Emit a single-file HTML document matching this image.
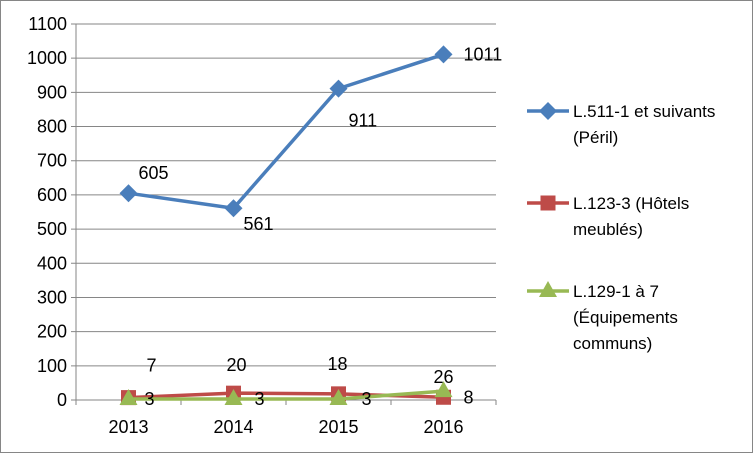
<!DOCTYPE html>
<html><head><meta charset="utf-8"><style>
body{margin:0;background:#fff}
svg{display:block;font-family:"Liberation Sans",sans-serif}
</style></head><body>
<svg id="c" width="753" height="453">
<rect x="0.5" y="0.5" width="752" height="452" fill="#fff" stroke="#868686"/>
</svg>
<script>
const categories=["2013","2014","2015","2016"];
const perilValues=[605,561,911,1011];
const hotelsValues=[7,20,18,8];
const equipValues=[3,3,3,26];
const yTicks=[0,100,200,300,400,500,600,700,800,900,1000,1100];
const seriesNames=[["L.511-1 et suivants","(Péril)"],["L.123-3 (Hôtels","meublés)"],["L.129-1 à 7","(Équipements","communs)"]];
const NS="http://www.w3.org/2000/svg";
const svg=document.getElementById('c');
const L=76,R=496,T=24,B=400,maxY=1100;
const x=i=>L+(R-L)/categories.length*(i+0.5);
const y=v=>B-(B-T)*v/maxY;
function el(t,a,p){const e=document.createElementNS(NS,t);for(const k in a)e.setAttribute(k,a[k]);(p||svg).appendChild(e);return e;}
function txt(s,px,py,anchor,name,fs){const e=el('text',{x:px,y:py,'font-size':fs||18,fill:'#000','text-anchor':anchor||'start'});e.textContent=s;

return e;}
yTicks.forEach(v=>{const g=el('line',{x1:L-5,x2:R,y1:y(v),y2:y(v),stroke:'#868686','stroke-width':1});


txt(String(v),L-9,y(v)+6,'end','y-tick-'+v);});
const ax=el('line',{x1:L,x2:L,y1:T,y2:B,stroke:'#868686'});


for(let i=0;i<=categories.length;i++){const xx=L+(R-L)/categories.length*i;const t=el('line',{x1:xx,x2:xx,y1:B,y2:B+5,stroke:'#868686'});

}
categories.forEach((c,i)=>txt(c,x(i),B+33,'middle','x-label-'+c));
function marker(kind,cx,cy,color,g){let m;
if(kind==='d')m=el('polygon',{points:`${cx},${cy-9} ${cx+9},${cy} ${cx},${cy+9} ${cx-9},${cy}`,fill:color},g);
else if(kind==='s')m=el('rect',{x:cx-7.5,y:cy-7.5,width:15,height:15,fill:color},g);
else m=el('polygon',{points:`${cx},${cy-10} ${cx+9},${cy+6} ${cx-9},${cy+6}`,fill:color},g);

}
const series=[{v:perilValues,c:'#4a7ebb',k:'d',off:[[10,-14],[10,22],[10,38],[20,6]]},
{v:hotelsValues,c:'#be4b48',k:'s',off:[[18,-26],[-7,-22],[-11,-24],[20,6]]},
{v:equipValues,c:'#98b954',k:'t',off:[[16,6],[21,6],[23,6],[-10,-8]]}];
series.forEach((s,si)=>{const g=el('g',{});


const p=el('polyline',{points:s.v.map((v,i)=>x(i)+','+y(v)).join(' '),fill:'none',stroke:s.c,'stroke-width':3.5},g);


s.v.forEach((v,i)=>marker(s.k,x(i),y(v),s.c,g));
s.v.forEach((v,i)=>txt(String(v),x(i)+s.off[i][0],y(v)+s.off[i][1],'start','data-label'));
const ly=[111,203,291][si];
const lg=el('g',{});


const ll=el('line',{x1:527,x2:569,y1:ly,y2:ly,stroke:s.c,'stroke-width':3.5},lg);


marker(s.k,548,ly,s.c,lg);
seriesNames[si].forEach((n,j)=>txt(n,573,ly+6+j*26,'start','legend-text',17));});
</script>
</body></html>
